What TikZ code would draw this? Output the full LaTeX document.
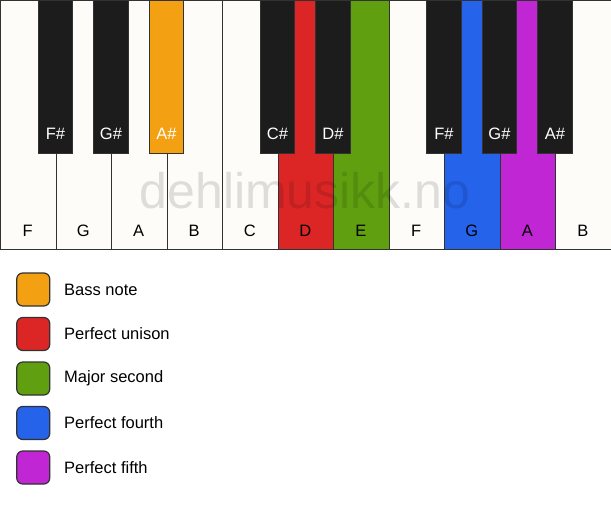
\documentclass[tikz,border=0pt]{standalone}
\usepackage{fontspec}
\setmainfont{Liberation Sans}
\definecolor{keywhite}{RGB}{253,252,249}
\definecolor{keyblack}{RGB}{28,28,28}
\definecolor{edge}{RGB}{50,50,50}
\definecolor{cbass}{RGB}{243,160,18}
\definecolor{cunison}{RGB}{220,38,38}
\definecolor{csecond}{RGB}{96,160,16}
\definecolor{cfourth}{RGB}{37,99,235}
\definecolor{cfifth}{RGB}{192,38,211}
\tikzset{
  whitekey/.style={draw=edge,line width=1.3pt,fill=keywhite,minimum width=55.5pt,minimum height=249pt,inner sep=0pt,anchor=north west},
  blackkey/.style={draw=edge,line width=1pt,fill=keyblack,minimum width=34.5pt,minimum height=153pt,inner sep=0pt,anchor=north},
  wlabel/.style={font=\fontsize{16.5}{16.5}\selectfont,text=black,anchor=base},
  blabel/.style={font=\fontsize{16.5}{16.5}\selectfont,text=white,anchor=base},
  legbox/.style={draw=edge,line width=1.2pt,rounded corners=6pt,minimum width=33pt,minimum height=33pt,inner sep=0pt},
  legtext/.style={font=\fontsize{16.5}{16.5}\selectfont,anchor=west,inner sep=0pt}
}
\begin{document}
\begin{tikzpicture}[x=1pt,y=-1pt]
\useasboundingbox[fill=white] (0,0) rectangle (611,506);
% white keys
\foreach \i/\n/\c in {0/F/keywhite,1/G/keywhite,2/A/keywhite,3/B/keywhite,4/C/keywhite,5/D/cunison,6/E/csecond,7/F/keywhite,8/G/cfourth,9/A/cfifth,10/B/keywhite}{
  \node[whitekey,fill=\c] (w\i) at (55.5*\i,0) {};
  \node[wlabel] (wl\i) at (55.5*\i+27.75,236) {\n};
}
% watermark
\node[font=\fontsize{50}{50}\selectfont,text=black,text opacity=0.12,anchor=base,inner sep=0pt] (wm) at (305,208) {dehlimusikk.no};
% black keys
\foreach \i/\n/\c in {1/F\#/keyblack,2/G\#/keyblack,3/A\#/cbass,5/C\#/keyblack,6/D\#/keyblack,8/F\#/keyblack,9/G\#/keyblack,10/A\#/keyblack}{
  \node[blackkey,fill=\c] (b\i) at (55.5*\i,0) {};
  \node[blabel] (bl\i) at (55.5*\i,139) {\n};
}
% legend
\foreach \k/\c/\t in {0/cbass/Bass note,1/cunison/Perfect unison,2/csecond/Major second,3/cfourth/Perfect fourth,4/cfifth/Perfect fifth}{
  \node[legbox,fill=\c] (lb\k) at (33.25,289.5+44.5*\k) {};
  \node[legtext] (lt\k) at (64,289.5+44.5*\k) {\t};
}
\end{tikzpicture}
\end{document}
